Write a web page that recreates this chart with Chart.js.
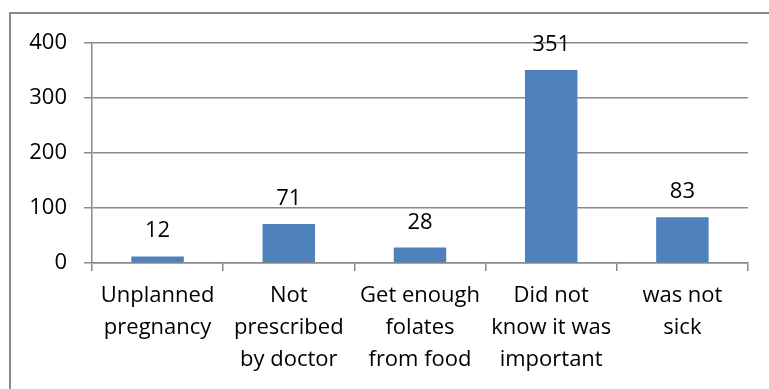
<!DOCTYPE html>
<html>
<head>
<meta charset="utf-8">
<script src="https://cdn.jsdelivr.net/npm/chart.js@4/dist/chart.umd.min.js"></script>
<style>
  html, body { margin: 0; padding: 0; background: #fff; }
  #wrap { position: relative; width: 769px; height: 389px; }
</style>
</head>
<body>
<div id="wrap"><canvas id="chart"></canvas></div>
<script>
const categories = [
  ['Unplanned', 'pregnancy'],
  ['Not', 'prescribed', 'by doctor'],
  ['Get enough', 'folates', 'from food'],
  ['Did not', 'know it was', 'important'],
  ['was not', 'sick'],
];
const counts = [12, 71, 28, 351, 83];
const yTicks = [0, 100, 200, 300, 400];

const FONT = { family: '"Open Sans", sans-serif', size: 22 };
const GRAY = '#8a8a8a';

// outer frame (only top and left edges are visible in the crop)
const framePlugin = {
  id: 'frame',
  beforeDraw(chart) {
    const ctx = chart.ctx;
    ctx.save();
    ctx.strokeStyle = GRAY;
    ctx.lineWidth = 2;
    ctx.beginPath();
    ctx.moveTo(10, 389);
    ctx.lineTo(10, 13);
    ctx.lineTo(769, 13);
    ctx.stroke();
    ctx.restore();
  },
};

const valueLabels = {
  id: 'valueLabels',
  afterDatasetsDraw(chart) {
    const ctx = chart.ctx;
    ctx.save();
    ctx.font = `${FONT.size}px ${FONT.family}`;
    ctx.fillStyle = '#000';
    ctx.textAlign = 'center';
    ctx.textBaseline = 'alphabetic';
    chart.getDatasetMeta(0).data.forEach((bar, i) => {
      ctx.fillText(String(counts[i]), bar.x, bar.y - 19);
    });
    ctx.restore();
  },
};

new Chart(document.getElementById('chart'), {
  type: 'bar',
  data: {
    labels: categories,
    datasets: [{
      data: counts,
      backgroundColor: '#4F81BD',
      borderWidth: 0,
      categoryPercentage: 1,
      barPercentage: 0.4,
    }],
  },
  options: {
    responsive: true,
    maintainAspectRatio: false,
    animation: false,
    layout: { padding: { left: 0, top: 43, right: 21, bottom: 0 } },
    plugins: { legend: { display: false }, tooltip: { enabled: false } },
    scales: {
      x: {
        grid: { offset: true, drawOnChartArea: false, tickLength: 8, color: GRAY, lineWidth: 1.5 },
        border: { color: GRAY, width: 1.5 },
        ticks: { color: '#000', font: { ...FONT, lineHeight: '32px' }, padding: 9, maxRotation: 0, autoSkip: false },
        afterFit: (s) => { s.height = 126; },
      },
      y: {
        min: 0,
        max: 400,
        afterBuildTicks: (s) => { s.ticks = yTicks.map((v) => ({ value: v })); },
        grid: { color: GRAY, lineWidth: 1.5, tickLength: 8 },
        border: { color: GRAY, width: 1.5 },
        ticks: { color: '#000', font: FONT, padding: 17 },
        afterFit: (s) => { s.width = 92; },
      },
    },
  },
  plugins: [framePlugin, valueLabels],
});
</script>
</body>
</html>
